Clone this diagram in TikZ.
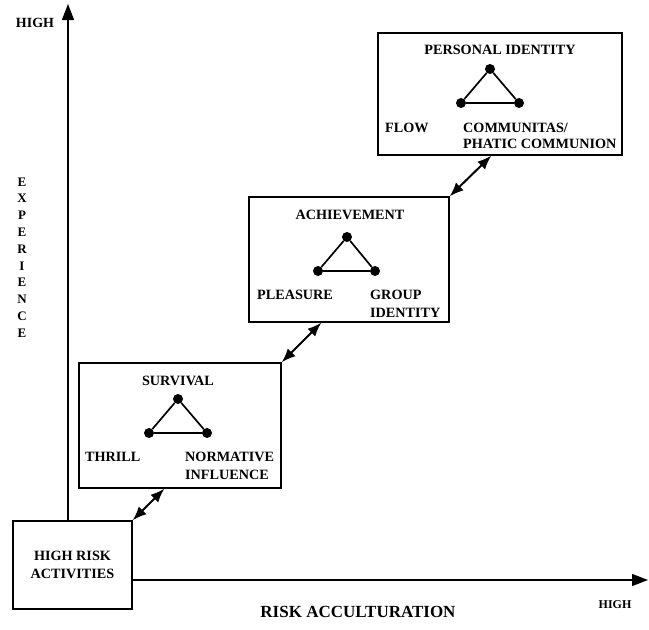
\documentclass[tikz,border=0pt]{standalone}
\usepackage{fontspec}
\setmainfont{Liberation Serif}
\usetikzlibrary{arrows.meta}

\tikzset{
    box/.style={draw, line width=1.4pt, inner sep=0pt},
    lbl/.style={inner sep=0pt, font=\bfseries\fontsize{14.2}{16}\selectfont},
    dot/.style={circle, fill, inner sep=0pt, minimum size=10pt},
    tri/.style={line width=1.7pt},
    axis/.style={line width=1.4pt, -{Triangle[length=16pt,width=12pt]}},
    twoway/.style={line width=2pt, {Latex[length=14pt,width=11pt]}-{Latex[length=14pt,width=11pt]}}
}

\begin{document}
\begin{tikzpicture}[x=1pt, y=-1pt]
            \useasboundingbox (0,0) rectangle (649,630);

            \node[box, lbl, align=center, minimum width=119pt, minimum height=88pt,
                  font=\bfseries\fontsize{14.2}{18}\selectfont] (hra) at (72.5,565) {HIGH RISK\\ACTIVITIES};
            \node[box, minimum width=202pt, minimum height=125pt] (surv) at (180,425.5) {};
            \node[box, minimum width=200pt, minimum height=125pt] (ach) at (349,259.5) {};
            \node[box, minimum width=244pt, minimum height=122pt] (pi) at (500,94) {};

            \coordinate (ytop) at (68,4);
            \coordinate (xend) at (648,580);
            \draw[axis] (hra.north -| ytop) -- (ytop);
            \draw[axis] (hra.east |- xend) -- (xend);
            \node[lbl, font=\bfseries\fontsize{14}{14}\selectfont] (yhigh) at (35,23) {HIGH};
            \node[lbl, align=center, font=\bfseries\fontsize{13}{16.8}\selectfont] (yname) at (22,257.5) {E\\X\\P\\E\\R\\I\\E\\N\\C\\E};
            \node[lbl, font=\bfseries\fontsize{17}{18}\selectfont] (xname) at (358,612) {RISK ACCULTURATION};
            \node[lbl, font=\bfseries\fontsize{12}{14}\selectfont] (xhigh) at (615,605) {HIGH};

            \node[lbl] (survname) at (178,381) {SURVIVAL};
            \node[dot] (st) at (178,399) {};
            \node[dot] (sl) at (149,433) {};
            \node[dot] (sr) at (207,433) {};
            \draw[tri] (st) -- (sl) -- (sr) -- (st);
            \node[lbl, anchor=west] (thrill) at (85,457) {THRILL};
            \node[lbl, anchor=west, align=left, font=\bfseries\fontsize{14.2}{18}\selectfont] (norm) at (185,466) {NORMATIVE\\INFLUENCE};

            \node[lbl] (achname) at (350,215) {ACHIEVEMENT};
            \node[dot] (at) at (347,237) {};
            \node[dot] (al) at (318,271) {};
            \node[dot] (ar) at (375,271) {};
            \draw[tri] (at) -- (al) -- (ar) -- (at);
            \node[lbl, anchor=west] (pleas) at (257,295) {PLEASURE};
            \node[lbl, anchor=west, align=left, font=\bfseries\fontsize{14.2}{18}\selectfont] (group) at (370,304) {GROUP\\IDENTITY};

            \node[lbl] (piname) at (500,50) {PERSONAL IDENTITY};
            \node[dot] (pt) at (490,69) {};
            \node[dot] (pl) at (461,103) {};
            \node[dot] (pr) at (519,103) {};
            \draw[tri] (pt) -- (pl) -- (pr) -- (pt);
            \node[lbl, anchor=west] (flow) at (385,128) {FLOW};
            \node[lbl, anchor=west, align=left] (commun) at (463,136) {COMMUNITAS/\\PHATIC COMMUNION};

            \draw[twoway] (hra.north east) -- ([xshift=86pt]surv.south west);
            \draw[twoway] (surv.north east) -- ([xshift=73pt]ach.south west);
            \draw[twoway] (ach.north east) -- ([xshift=114pt]pi.south west);

        \end{tikzpicture}
\end{document}
